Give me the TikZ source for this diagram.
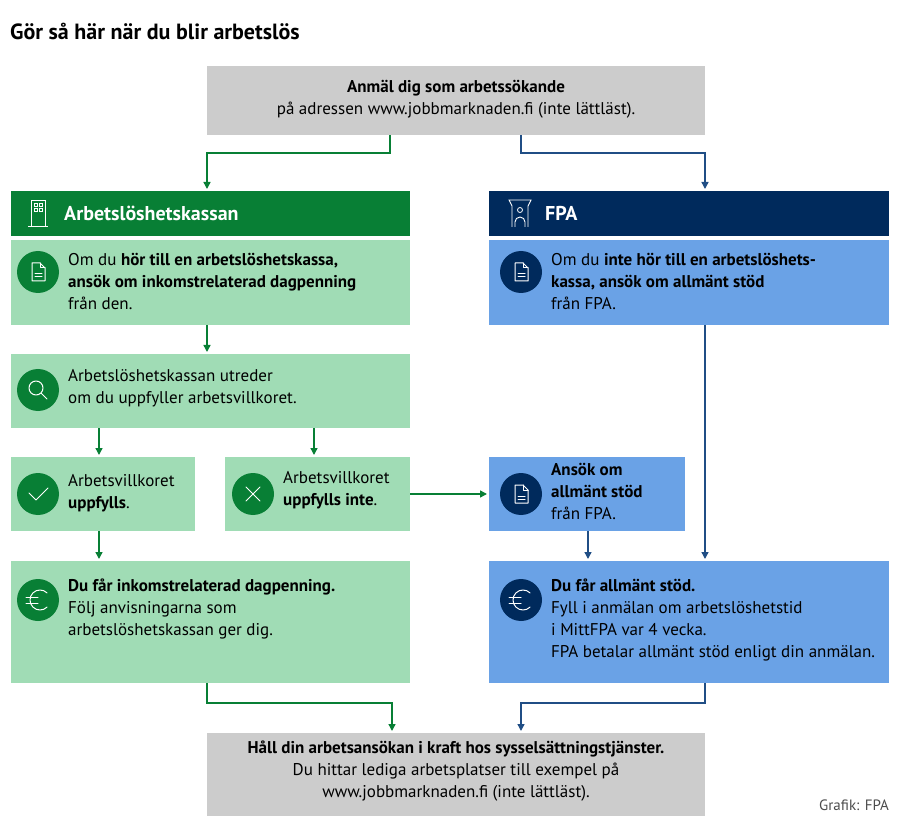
\documentclass[tikz,border=0pt]{standalone}
\usepackage{fontspec}
\setmainfont{PT Sans}
\usetikzlibrary{calc,arrows.meta}
\definecolor{kgreen}{HTML}{087F35}
\definecolor{klight}{HTML}{A0DCB5}
\definecolor{fblue}{HTML}{002A5C}
\definecolor{flight}{HTML}{6AA2E6}
\definecolor{grbox}{HTML}{CCCCCC}
\tikzset{
  txt/.style={anchor=north west,align=left,inner sep=0pt,font=\fontsize{17}{22}\selectfont},
  head/.style={anchor=west,text=white,inner sep=0pt,font=\fontsize{20}{22}\selectfont\bfseries},
  garrow/.style={kgreen,line width=1.4pt,-{Triangle[length=7pt,width=7pt]}},
  barrow/.style={fblue!70!flight,line width=1.4pt,-{Triangle[length=7pt,width=7pt]}},
  icon/.style={white,line width=1pt,line cap=round,line join=round},
}
% document icon
\newcommand\docicon[1]{%
  \draw[icon] ($(#1)+(-6,9)$) -- ++(0,-18) -- ++(8,0) -- ++(5,5) -- ++(0,13) -- cycle;
  \draw[icon] ($(#1)+(2,-9)$) -- ++(0,5) -- ++(5,0);
  \draw[icon] ($(#1)+(-3,2)$) -- ++(7,0) ($(#1)+(-3,5)$) -- ++(7,0);}
\begin{document}
\begin{tikzpicture}[x=1pt,y=-1pt]
\useasboundingbox (0,0) rectangle (900,826);
\node[anchor=base west,inner sep=0pt,font=\fontsize{22}{24}\selectfont\bfseries] (title) at (10,40) {Gör så här när du blir arbetslös};

% top and bottom boxes
\fill[grbox] (207,66) rectangle (705,135);
\coordinate (top) at (456,135);
\node[txt,align=center,anchor=north] (toptxt) at (456,80) {\textbf{Anmäl dig som arbetssökande}\\på adressen www.jobbmarknaden.fi (inte lättläst).};
\fill[grbox] (207,733) rectangle (705,816);
\node[txt,align=center,anchor=north] (bottxt) at (456,741) {\textbf{Håll din arbetsansökan i kraft hos sysselsättningstjänster.}\\Du hittar lediga arbetsplatser till exempel på\\www.jobbmarknaden.fi (inte lättläst).};
\node[anchor=base east,inner sep=0pt,font=\fontsize{15}{16}\selectfont,text=black!70] (grafik) at (889,810) {Grafik: FPA};

% headers
\fill[kgreen] (11,191) rectangle (410,236);
\fill[fblue] (489,191) rectangle (889,236);
\node[head] (hk) at (64,213) {Arbetslöshetskassan};
\node[head] (hf) at (545,213) {FPA};
\draw[white,line width=0.9pt] (28,226) -- (48,226) (31,226) -- (31,200) -- (45,200) -- (45,226);
\foreach \x in {34,39} \foreach \y in {203,208} \draw[white,line width=0.7pt] (\x,\y) rectangle ++(3,3);
\draw[white,line width=0.9pt] (512,227) -- (512,206) -- (509,200) -- (531,200) -- (528,206) -- (528,227) (515,227) -- (515,222) arc (180:360:5) -- (525,227);
\draw[white,line width=0.8pt] (520,210) circle (2.5);

% green boxes
\fill[klight] (11,240) rectangle (410,325);
\fill[klight] (11,354) rectangle (410,428);
\fill[klight] (11,457) rectangle (195,531);
\fill[klight] (225,457) rectangle (410,531);
\fill[klight] (11,561) rectangle (410,683);
% blue boxes
\fill[flight] (489,240) rectangle (889,325);
\fill[flight] (489,457) rectangle (685,531);
\fill[flight] (489,561) rectangle (889,683);

% icons
\foreach \p in {(38,272),(38,390),(38,494),(253,494),(38,600)} \fill[kgreen] \p circle (21);
\foreach \p in {(521,272),(521,494),(521,600)} \fill[fblue] \p circle (21);
\docicon{38,272}
\docicon{521,272}
\docicon{521,494}
\draw[icon] (36,388) circle (7) (41,393) -- (47,399);
\draw[icon] (29,493) -- (36,500) -- (48,488);
\draw[icon] (246,487) -- (260,501) (260,487) -- (246,501);
\foreach \c in {38,521} {
  \draw[icon] (\c+2,600) ++(45:10) arc (45:315:10);
  \draw[icon] (\c-12,597) -- ++(12,0) (\c-12,603) -- ++(12,0);}

% texts
\node[txt] (g1) at (68,253) {Om du \textbf{hör till en arbetslöshetskassa,}\\\textbf{ansök om inkomstrelaterad dagpenning}\\från den.};
\node[txt] (g2) at (68,369) {Arbetslöshetskassan utreder\\om du uppfyller arbetsvillkoret.};
\node[txt] (g3) at (68,474) {Arbetsvillkoret\\\textbf{uppfylls}.};
\node[txt] (g4) at (283,471) {Arbetsvillkoret\\\textbf{uppfylls inte}.};
\node[txt] (g5) at (68,579) {\textbf{Du får inkomstrelaterad dagpenning.}\\Följ anvisningarna som\\arbetslöshetskassan ger dig.};
\node[txt] (f1) at (551,253) {Om du \textbf{inte hör till en arbetslöshets-}\\\textbf{kassa, ansök om allmänt stöd}\\från FPA.};
\node[txt] (f2) at (551,463) {\textbf{Ansök om}\\\textbf{allmänt stöd}\\från FPA.};
\node[txt] (f3) at (551,579) {\textbf{Du får allmänt stöd.}\\Fyll i anmälan om arbetslöshetstid\\i MittFPA var 4 vecka.\\FPA betalar allmänt stöd enligt din anmälan.};

% connectors
\draw[garrow] ($(top)+(-66,0)$) |- (207,153) -- (207,189);
\draw[barrow] ($(top)+(65,0)$) |- (705,153) -- (705,189);
\draw[garrow] (207,325) -- (207,352);
\draw[garrow] (99,428) -- (99,455);
\draw[garrow] (314,428) -- (314,455);
\draw[garrow] (99,531) -- (99,559);
\draw[garrow] (410,494) -- (487,494);
\draw[barrow] (588,531) -- (588,559);
\draw[barrow] (705,325) -- (705,559);
\draw[garrow] (207,683) |- (392,703) -- (392,731);
\draw[barrow] (705,683) |- (521,703) -- (521,731);
\end{tikzpicture}
\end{document}
